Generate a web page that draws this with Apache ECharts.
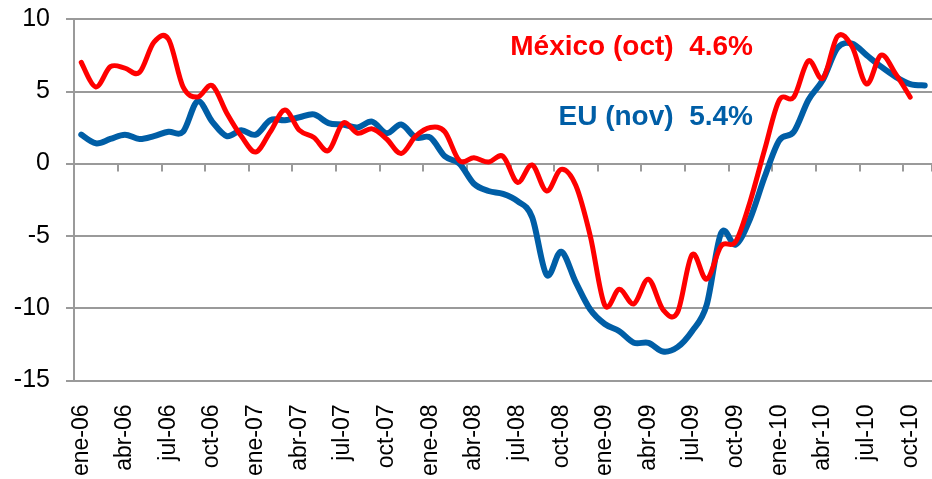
<!DOCTYPE html>
<html>
<head>
<meta charset="utf-8">
<script src="https://cdn.jsdelivr.net/npm/echarts@6/dist/echarts.min.js"></script>
<style>
  html, body { margin: 0; padding: 0; background: #fff; }
  #chart { width: 932px; height: 479px; }
</style>
</head>
<body>
<div id="chart"></div>
<script>
// month names and years used to build the category axis (ene-06 ... nov-10)
const monthNames = ['ene', 'feb', 'mar', 'abr', 'may', 'jun', 'jul', 'ago', 'sep', 'oct', 'nov', 'dic'];
const years = ['06', '07', '08', '09', '10'];
const lastMonthIndex = 10; // nov-10

const categories = [];
years.forEach((yr, yi) => {
  monthNames.forEach((m, mi) => {
    if (yi === years.length - 1 && mi > lastMonthIndex) return;
    categories.push(m + '-' + yr);
  });
});

// México, variación anual (%), hasta oct-10
const mexicoValues = [
  7.0, 5.3, 6.7, 6.6, 6.3, 8.4, 8.6, 5.3, 4.6, 5.4, 3.5, 1.9,
  0.8, 2.2, 3.7, 2.3, 1.8, 0.9, 2.8, 2.1, 2.4, 1.7, 0.7, 1.9,
  2.5, 2.2, 0.2, 0.4, 0.1, 0.5, -1.3, -0.1, -1.9, -0.4, -1.5, -5.0,
  -9.8, -8.7, -9.7, -8.0, -10.1, -10.3, -6.3, -8.0, -5.7, -5.4, -2.6, 1.0,
  4.4, 4.6, 7.1, 5.9, 8.8, 8.1, 5.5, 7.5, 6.2, 4.6
];

// EU, variación anual (%), hasta nov-10
const euValues = [
  2.0, 1.4, 1.7, 2.0, 1.7, 1.9, 2.2, 2.2, 4.3, 2.9, 1.9, 2.3,
  2.0, 3.0, 3.0, 3.2, 3.4, 2.8, 2.7, 2.5, 2.9, 2.1, 2.7, 1.8,
  1.8, 0.5, 0.0, -1.4, -1.9, -2.1, -2.6, -3.7, -7.7, -6.1, -8.2, -10.1,
  -11.1, -11.6, -12.4, -12.4, -13.0, -12.7, -11.6, -9.8, -4.8, -5.6, -3.8, -0.9,
  1.6, 2.2, 4.4, 5.8, 8.0, 8.3, 7.5, 6.7, 6.0, 5.5, 5.4
];

const yTicks = { min: -15, max: 10, interval: 5 };

const mexicoLabel = 'México (oct)  4.6%';
const euLabel = 'EU (nov)  5.4%';

const red = '#ff0000';
const blue = '#005ea6';
const gridGray = '#9a9a9a';
const font = '"Liberation Sans", Arial, sans-serif';

const myChart = echarts.init(document.getElementById('chart'));

// Excel-like smoothed line: whole curve drawn once, points mapped through the axes
function smoothLine(values, color, width) {
  return function (params, api) {
    if (params.dataIndex !== 0) return null;
    const pts = values.map((v, i) => api.coord([i, v]));
    const n = pts.length;
    let d = 'M' + pts[0][0] + ' ' + pts[0][1];
    for (let i = 0; i < n - 1; i++) {
      const p0 = pts[Math.max(i - 1, 0)];
      const p1 = pts[i];
      const p2 = pts[i + 1];
      const p3 = pts[Math.min(i + 2, n - 1)];
      const c1x = p1[0] + (p2[0] - p0[0]) / 6;
      const c1y = p1[1] + (p2[1] - p0[1]) / 6;
      const c2x = p2[0] - (p3[0] - p1[0]) / 6;
      const c2y = p2[1] - (p3[1] - p1[1]) / 6;
      d += ' C' + c1x + ' ' + c1y + ' ' + c2x + ' ' + c2y + ' ' + p2[0] + ' ' + p2[1];
    }
    return {
      type: 'path',
      shape: { pathData: d },
      style: { stroke: color, lineWidth: width, fill: null, lineJoin: 'round', lineCap: 'round' }
    };
  };
}

const option = {
  animation: false,
  grid: { left: 74, right: -11, top: 19, bottom: 98 },
  xAxis: [
    {
      // labels along the bottom edge
      type: 'category',
      data: categories,
      boundaryGap: true,
      position: 'bottom',
      axisLine: { show: false, onZero: false },
      axisTick: { show: false },
      axisLabel: {
        interval: 2,
        rotate: 90,
        margin: 24,
        fontSize: 23,
        color: '#000',
        fontFamily: font
      },
      splitLine: { show: false }
    },
    {
      // axis line + ticks sitting on zero
      type: 'category',
      data: categories,
      boundaryGap: true,
      position: 'top',
      axisLine: { show: true, onZero: true, lineStyle: { color: gridGray, width: 2 } },
      axisTick: { show: true, inside: true, interval: 2, length: 8, lineStyle: { color: gridGray, width: 2 } },
      axisLabel: { show: false },
      splitLine: { show: false }
    }
  ],
  yAxis: {
    type: 'value',
    min: yTicks.min,
    max: yTicks.max,
    interval: yTicks.interval,
    axisLine: { show: true, lineStyle: { color: gridGray, width: 2 } },
    axisTick: { show: true, length: 8, lineStyle: { color: gridGray, width: 2 } },
    axisLabel: { margin: 24, fontSize: 25, color: '#000', fontFamily: font },
    splitLine: { show: true, lineStyle: { color: gridGray, width: 2 } }
  },
  series: [
    {
      name: 'EU',
      type: 'custom',
      xAxisIndex: 0,
      data: euValues.map((v, i) => [i, v]),
      encode: { x: 0, y: 1 },
      renderItem: smoothLine(euValues, blue, 6),
      z: 2
    },
    {
      name: 'México',
      type: 'custom',
      xAxisIndex: 0,
      data: mexicoValues.map((v, i) => [i, v]),
      encode: { x: 0, y: 1 },
      renderItem: smoothLine(mexicoValues, red, 5),
      z: 3
    }
  ],
  graphic: [
    {
      type: 'text',
      right: 179,
      top: 33,
      style: { text: mexicoLabel, fill: red, font: 'bold 28px ' + font }
    },
    {
      type: 'text',
      right: 179,
      top: 103,
      style: { text: euLabel, fill: blue, font: 'bold 28px ' + font }
    }
  ]
};

myChart.setOption(option);
</script>
</body>
</html>
